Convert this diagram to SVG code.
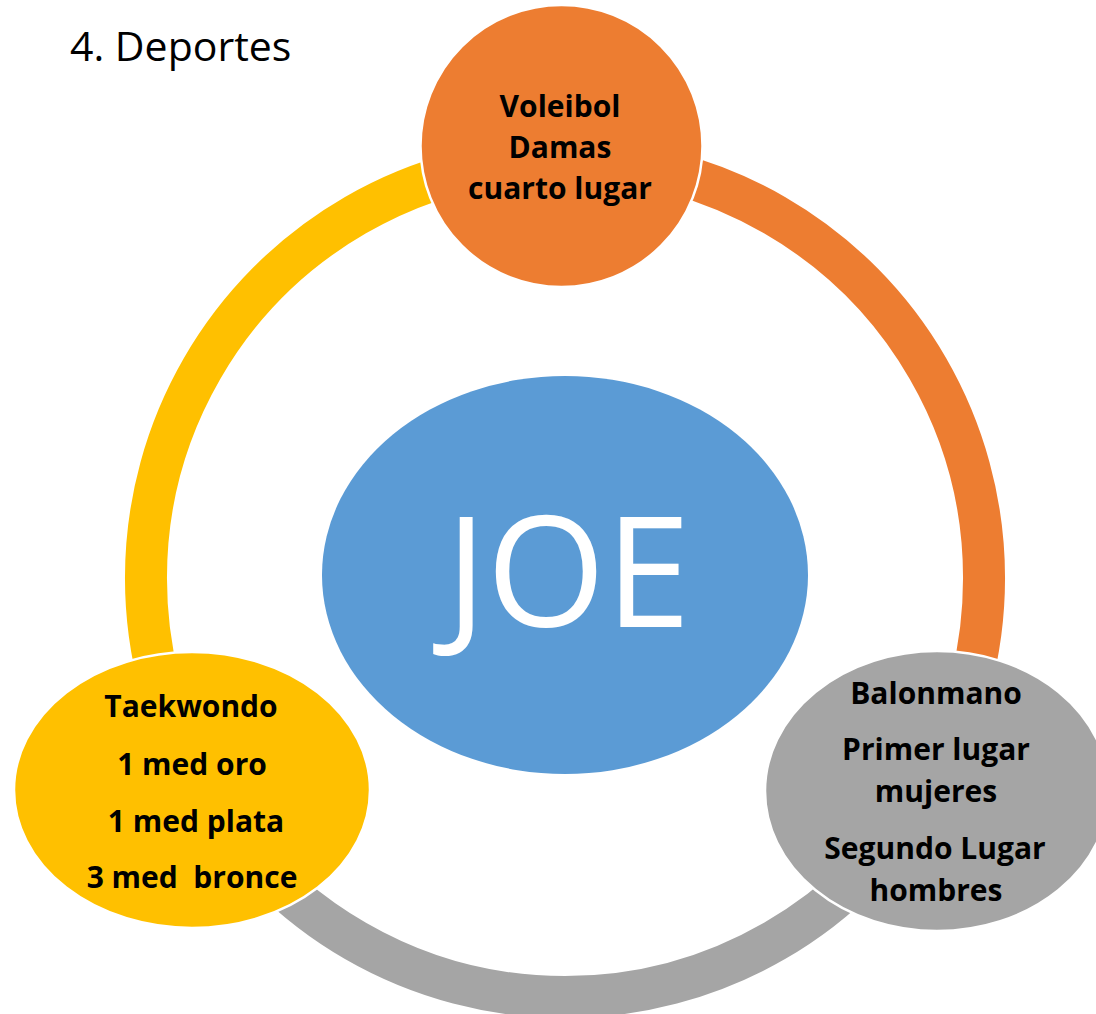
<svg xmlns="http://www.w3.org/2000/svg" width="1096" height="1014" viewBox="0 0 1096 1014">
<style>
.ring{fill:none;stroke-width:42}
.node{stroke:#fff;stroke-width:2.5}
.lbl{font-family:"Open Sans","Liberation Sans",sans-serif;font-weight:700;font-size:30px;fill:#000;text-anchor:middle}
</style>
<rect width="1096" height="1014" fill="#fff"/>
<text x="70" y="61" font-family="'Open Sans','Liberation Sans',sans-serif" font-size="41" fill="#000">4. Deportes</text>
<g id="connectors">
<path class="ring" stroke="#ED7D31" d="M 565 159 A 419 419 0 0 1 927.9 787.5"/>
<path class="ring" stroke="#A5A5A5" d="M 927.9 787.5 A 419 419 0 0 1 202.1 787.5"/>
<path class="ring" stroke="#FFC000" d="M 202.1 787.5 A 419 419 0 0 1 565 159"/>
</g>
<g id="center">
<ellipse cx="565" cy="575" rx="243" ry="199" fill="#5B9BD5"/>
<text x="568" y="627" font-family="'Open Sans','Liberation Sans',sans-serif" font-size="153" fill="#fff" text-anchor="middle">JOE</text>
</g>
<g id="voleibol">
<circle class="node" cx="561.5" cy="146" r="141" fill="#ED7D31"/>
<text class="lbl" x="560" y="117">Voleibol</text>
<text class="lbl" x="560" y="158">Damas</text>
<text class="lbl" x="560" y="199">cuarto lugar</text>
</g>
<g id="balonmano">
<ellipse class="node" cx="937" cy="791" rx="172" ry="140" fill="#A5A5A5"/>
<text class="lbl" x="936" y="704">Balonmano</text>
<text class="lbl" x="936" y="760">Primer lugar</text>
<text class="lbl" x="936" y="802">mujeres</text>
<text class="lbl" x="935" y="859">Segundo Lugar</text>
<text class="lbl" x="936" y="901">hombres</text>
</g>
<g id="taekwondo">
<ellipse class="node" cx="192" cy="790" rx="178" ry="138" fill="#FFC000"/>
<text class="lbl" x="191" y="717">Taekwondo</text>
<text class="lbl" x="192" y="775">1 med oro</text>
<text class="lbl" x="196" y="832">1 med plata</text>
<text class="lbl" x="192" y="888" xml:space="preserve">3 med  bronce</text>
</g>
</svg>
